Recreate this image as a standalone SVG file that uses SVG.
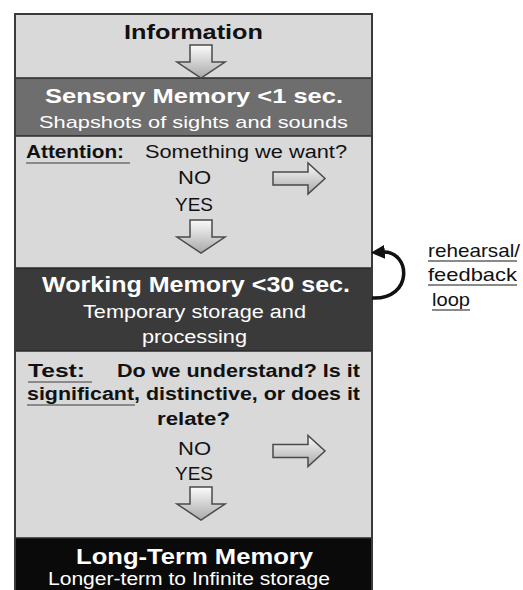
<svg xmlns="http://www.w3.org/2000/svg" width="523" height="590" viewBox="0 0 523 590">
<style>
.t{font-family:"Liberation Sans",Arial,sans-serif;}
.b{font-weight:bold;}
.c{text-anchor:middle;}
.dk{fill:#111;}
.wh{fill:#fff;}
.band-l{fill:#d9d9d9;}
.ul{stroke:#8a8a8a;stroke-width:2;}
.sep{stroke:#2a2a2a;stroke-width:1.5;}
.arr{fill:url(#ag);stroke:#4a4a4a;stroke-width:1.5;stroke-linejoin:miter;}
</style>
<defs>
<linearGradient id="ag" x1="0" y1="0" x2="0" y2="1">
<stop offset="0" stop-color="#fbfbfb"/>
<stop offset="1" stop-color="#a9a9a9"/>
</linearGradient>
<path id="down" d="M -11 0 H 11 V 17 H 24 L 0 33 L -24 17 H -11 Z"/>
<path id="right" d="M 0 -6.5 H 35 V -15.5 L 52 0 L 35 15.5 V 6.5 H 0 Z"/>
<marker id="ah" viewBox="0 0 10 10" refX="2" refY="5" markerWidth="4" markerHeight="4" orient="auto-start-reverse">
<path d="M 0 0 L 10 5 L 0 10 Z" fill="#111"/>
</marker>
</defs>
<rect width="523" height="590" fill="#fff"/>

<g id="info">
<rect x="15" y="14" width="357" height="64" class="band-l"/>
<text class="t b c dk" x="193.5" y="39" font-size="21" textLength="139" lengthAdjust="spacingAndGlyphs">Information</text>
</g>

<g id="sensory">
<rect x="15" y="78" width="357" height="58" fill="#6e6e6e"/>
<text class="t b c wh" x="194" y="103" font-size="21" textLength="298" lengthAdjust="spacingAndGlyphs">Sensory Memory &lt;1 sec.</text>
<text class="t c wh" x="193.5" y="128" font-size="17" textLength="309" lengthAdjust="spacingAndGlyphs">Shapshots of sights and sounds</text>
</g>

<g id="attention">
<rect x="15" y="136" width="357" height="132" class="band-l"/>
<text class="t b dk" x="26" y="158" font-size="18" textLength="98" lengthAdjust="spacingAndGlyphs">Attention:</text>
<line class="ul" x1="26" y1="163" x2="130" y2="163"/>
<text class="t dk" x="145" y="158" font-size="18" textLength="202" lengthAdjust="spacingAndGlyphs">Something we want?</text>
<text class="t c dk" x="194.5" y="184" font-size="18" textLength="33" lengthAdjust="spacingAndGlyphs">NO</text>
<text class="t c dk" x="194" y="211" font-size="18" textLength="38" lengthAdjust="spacingAndGlyphs">YES</text>
</g>

<g id="working">
<rect x="15" y="268" width="357" height="83" fill="#3a3a3a"/>
<text class="t b c wh" x="196" y="292" font-size="22" textLength="308" lengthAdjust="spacingAndGlyphs">Working Memory &lt;30 sec.</text>
<text class="t c wh" x="194.5" y="318" font-size="18" textLength="223" lengthAdjust="spacingAndGlyphs">Temporary storage and</text>
<text class="t c wh" x="194.5" y="343" font-size="18" textLength="105" lengthAdjust="spacingAndGlyphs">processing</text>
</g>

<g id="test">
<rect x="15" y="351" width="357" height="187" class="band-l"/>
<text class="t b dk" x="28" y="377" font-size="18" textLength="57" lengthAdjust="spacingAndGlyphs">Test:</text>
<line class="ul" x1="28" y1="382" x2="92" y2="382"/>
<text class="t b dk" x="117" y="377" font-size="18" textLength="243" lengthAdjust="spacingAndGlyphs">Do we understand? Is it</text>
<text class="t b dk" x="27" y="400" font-size="18" textLength="333" lengthAdjust="spacingAndGlyphs">significant, distinctive, or does it</text>
<line class="ul" x1="27" y1="405" x2="135" y2="405"/>
<text class="t b c dk" x="193.5" y="425" font-size="18" textLength="73" lengthAdjust="spacingAndGlyphs">relate?</text>
<text class="t c dk" x="194.5" y="455" font-size="18" textLength="33" lengthAdjust="spacingAndGlyphs">NO</text>
<text class="t c dk" x="194" y="480" font-size="18" textLength="38" lengthAdjust="spacingAndGlyphs">YES</text>
</g>

<g id="longterm">
<rect x="15" y="538" width="357" height="52" fill="#0a0a0a"/>
<text class="t b c wh" x="194.5" y="564" font-size="22" textLength="237" lengthAdjust="spacingAndGlyphs">Long-Term Memory</text>
<text class="t c wh" x="189" y="585" font-size="18" textLength="282" lengthAdjust="spacingAndGlyphs">Longer-term to Infinite storage</text>
</g>

<g id="frame" fill="none">
<line class="sep" x1="15" y1="78" x2="372" y2="78"/>
<line class="sep" x1="15" y1="136" x2="372" y2="136"/>
<line class="sep" x1="15" y1="268" x2="372" y2="268"/>
<line class="sep" x1="15" y1="351" x2="372" y2="351"/>
<line class="sep" x1="15" y1="538" x2="372" y2="538"/>
<path d="M 15 591 V 14 H 372 V 591" stroke="#3a3a3a" stroke-width="2"/>
</g>

<g id="loop-label">
<text class="t dk" x="428" y="257" font-size="19" textLength="92" lengthAdjust="spacingAndGlyphs">rehearsal/</text>
<line class="ul" x1="428" y1="261" x2="517" y2="261"/>
<text class="t dk" x="428" y="281" font-size="19" textLength="89" lengthAdjust="spacingAndGlyphs">feedback</text>
<line class="ul" x1="428" y1="285" x2="517" y2="285"/>
<text class="t dk" x="432" y="306" font-size="19" textLength="38" lengthAdjust="spacingAndGlyphs">loop</text>
<line class="ul" x1="432" y1="310" x2="470" y2="310"/>
</g>

<g id="connectors">
<use href="#down" class="arr" x="201" y="45"/>
<use href="#down" class="arr" x="201" y="220"/>
<use href="#down" class="arr" x="201" y="487"/>
<use href="#right" class="arr" x="273" y="178.5"/>
<use href="#right" class="arr" x="273" y="451"/>
<path d="M 372 298 C 414 300, 411 250, 382 252" fill="none" stroke="#111" stroke-width="3.5" marker-end="url(#ah)"/>
</g>
</svg>
